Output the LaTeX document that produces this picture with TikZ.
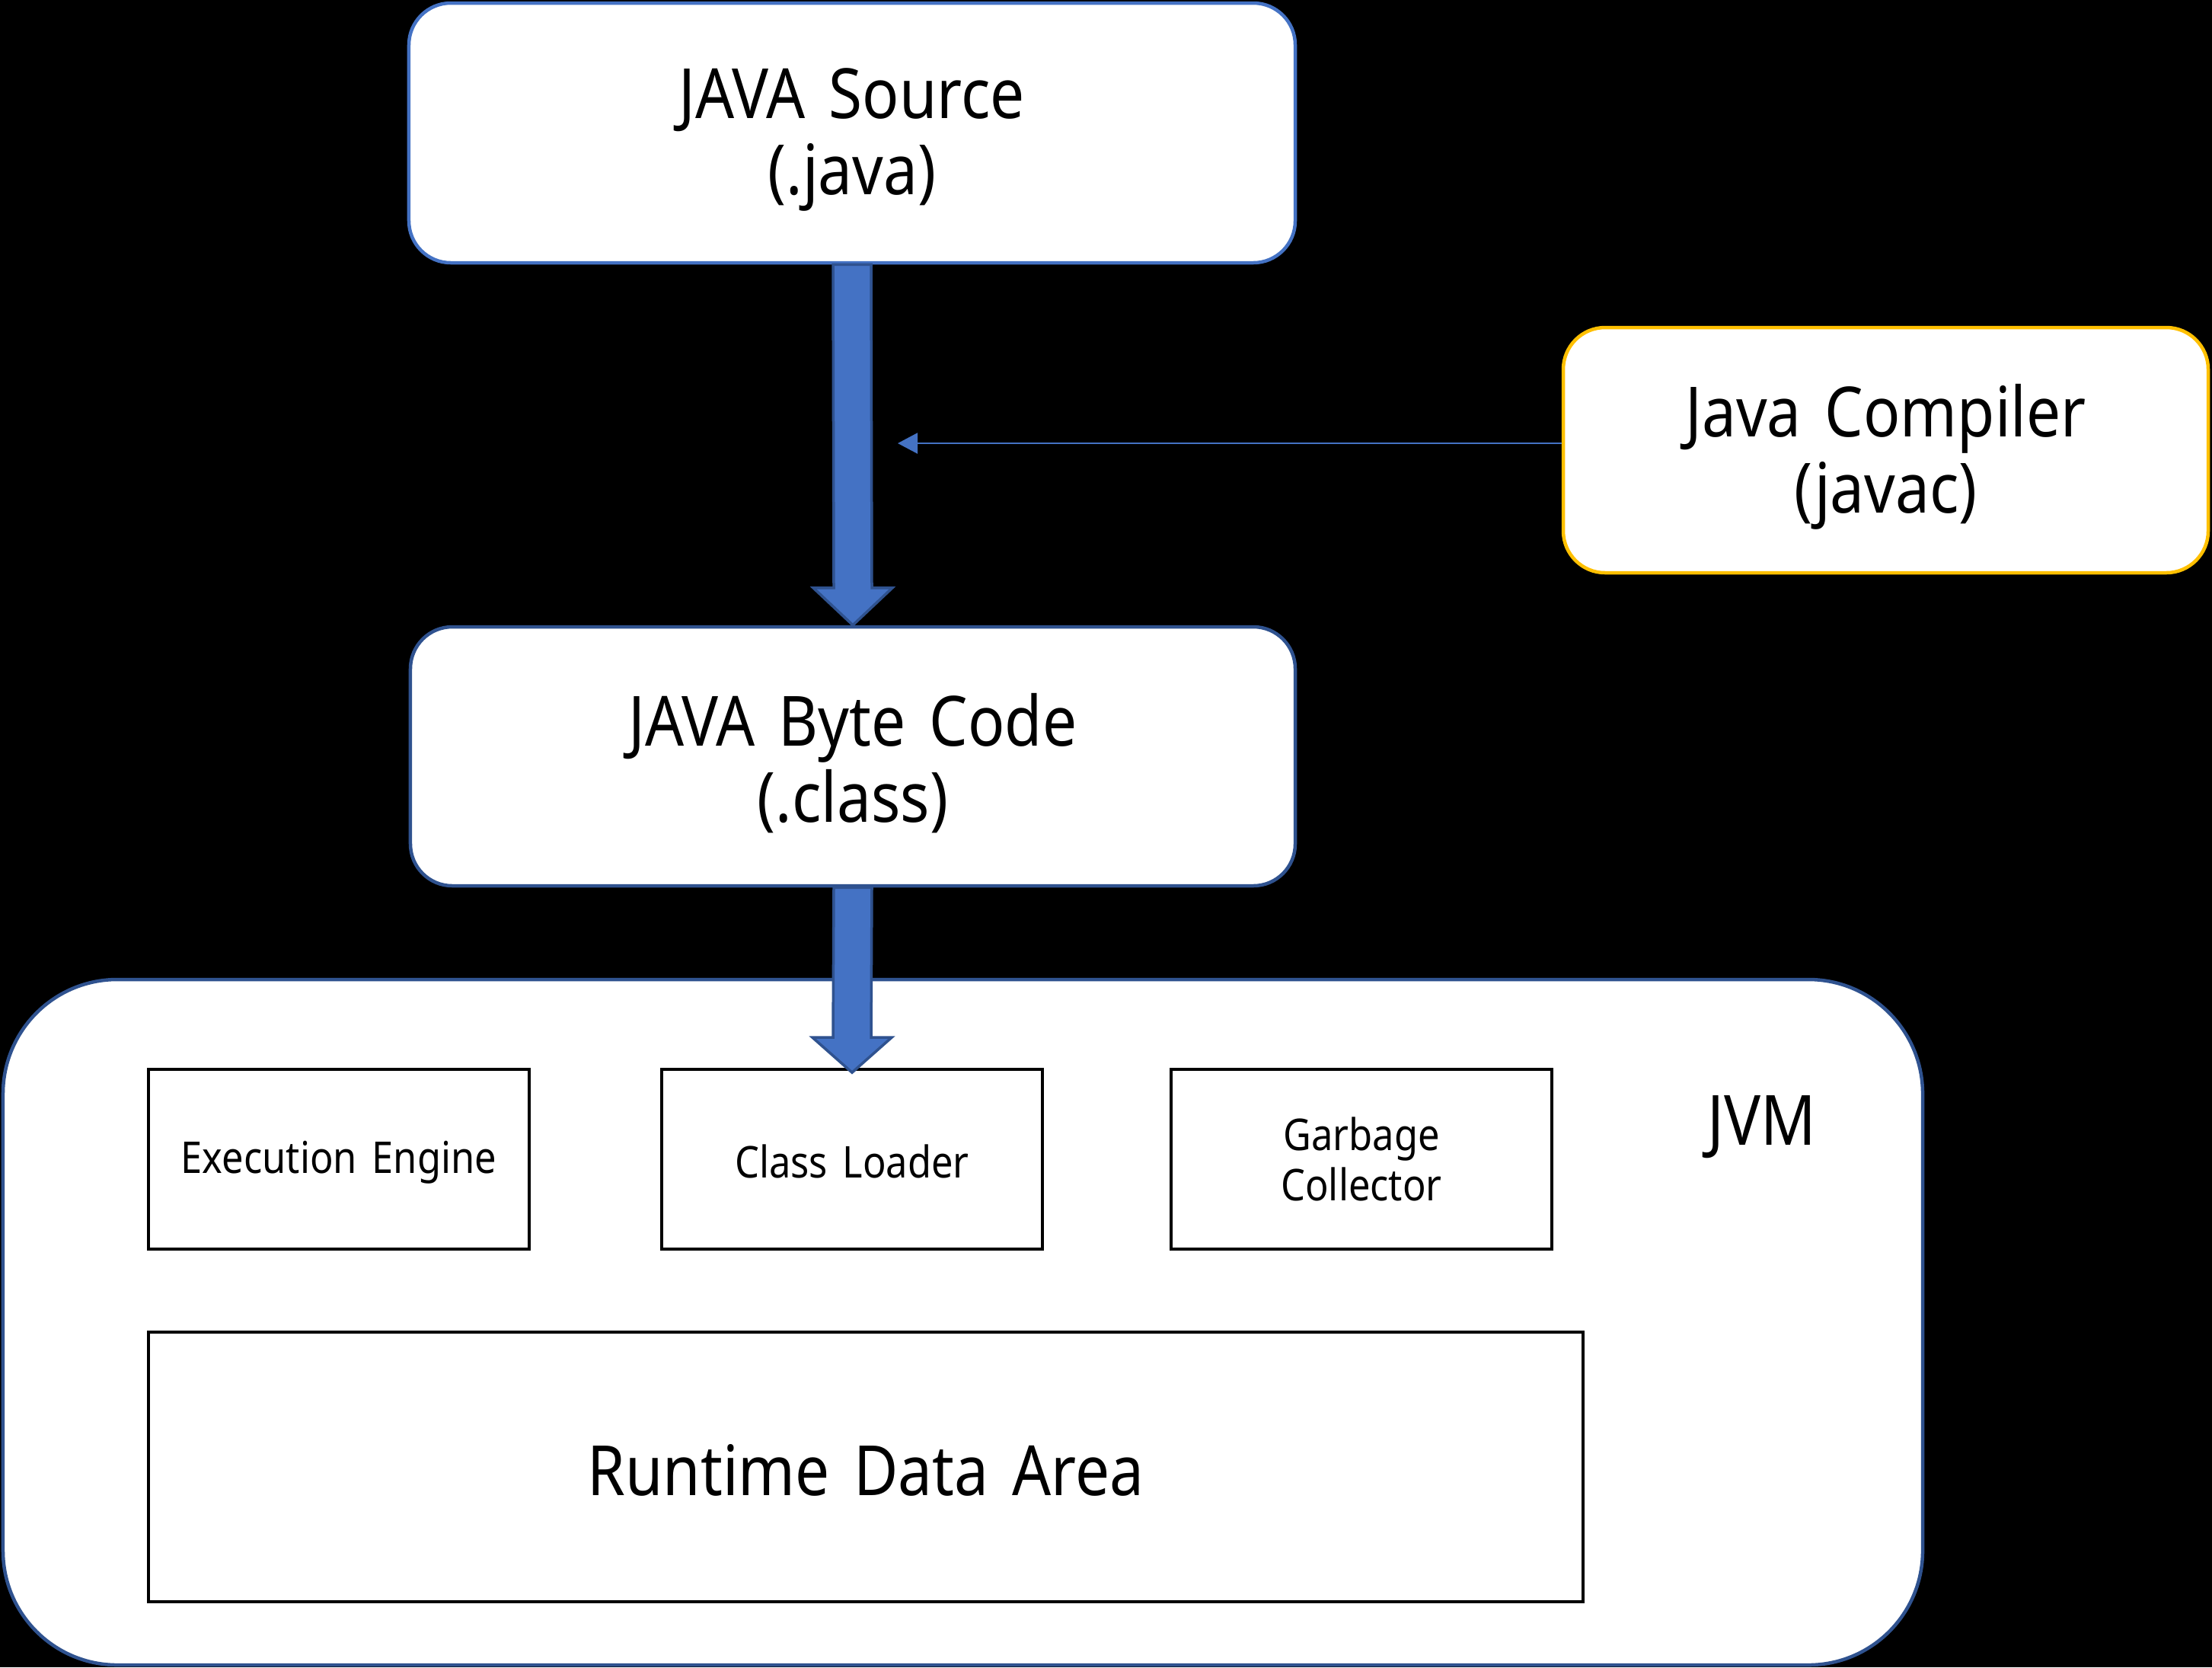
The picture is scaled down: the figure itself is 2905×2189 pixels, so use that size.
\documentclass[tikz,border=0pt]{standalone}
\usepackage{fontspec}
\setmainfont{Noto Sans}[FakeStretch=0.88, WordSpace=1.5]
\usetikzlibrary{arrows.meta,calc}
\definecolor{blueA}{HTML}{4472C4}
\definecolor{blueD}{HTML}{2F528F}
\definecolor{goldB}{HTML}{FFC000}
\tikzset{
  bigtext/.style={font=\fontsize{36.4}{40}\selectfont, align=center, inner sep=0pt},
  smalltext/.style={font=\fontsize{23}{26.7}\selectfont, align=center, inner sep=0pt},
  roundbox/.style={draw=#1, fill=white, line width=1.8pt, rounded corners=22pt,
    inner sep=0pt},
  compbox/.style={draw=black, fill=white, line width=1.5pt, inner sep=0pt,
    minimum width=200pt, minimum height=94.4pt},
  blockarrow/.style={fill=blueA, draw=blueD, line width=1.4pt, line join=miter},
  thinarrow/.style={draw=blueA, line width=0.9pt, -{Triangle[length=10.4pt,width=10.8pt]}}
}
\begin{document}
\begin{tikzpicture}[x=0.4pt,y=-0.4pt]
\fill[black] (0,0) rectangle (2905,2189);
\useasboundingbox (0,0) rectangle (2905,2189);

\node[roundbox=blueA, minimum width=465.6pt, minimum height=136.4pt] (src) at (1119,174.5) {};
\node[bigtext] (srct) at ([yshift=-3.7pt]src.center) {JAVA Source\\(.java)};
\node[roundbox=blueD, minimum width=464.8pt, minimum height=136pt] (byte) at (1120,993) {};
\node[bigtext] (bytet) at ([yshift=-3.5pt]byte.center) {JAVA Byte Code\\(.class)};
\node[roundbox=goldB, minimum width=338.8pt, minimum height=128.8pt] (comp) at (2476.5,591) {};
\node[bigtext] (compt) at ([yshift=-3.5pt]comp.center) {Java Compiler\\(javac)};

\node[draw=blueD, fill=white, line width=1.8pt, rounded corners=60pt, inner sep=0pt,
  minimum width=1008.4pt, minimum height=360pt] (jvm) at (1264.5,1736) {};
\node[bigtext] (jvmlabel) at (2314,1480) {JVM};

\node[compbox] (exec) at (445,1522) {};
\node[smalltext] (exect) at ([yshift=-1.6pt]exec.center) {Execution Engine};
\node[compbox] (cl) at (1119,1522) {};
\node[smalltext] (clt) at ([yshift=-1.2pt]cl.center) {Class Loader};
\node[compbox] (gc) at (1788,1522) {};
\node[smalltext] (gct) at ([yshift=0pt]gc.center) {Garbage\\Collector};
\node[draw=black, fill=white, line width=1.5pt, inner sep=0pt,
  minimum width=753.6pt, minimum height=141.6pt] (rda) at (1137,1926) {};
\node[bigtext] (rdat) at ([yshift=-1.6pt]rda.center) {Runtime Data Area};

% block arrow src -> byte
\coordinate (a1s) at (src.south);
\coordinate (a1t) at (byte.north);
\draw[blockarrow] ($(a1s)+(-25,0)$) -- ($(a1s)+(25,0)$) -- ($(a1t)+(25,-49)$)
  -- ($(a1t)+(52,-49)$) -- (a1t) -- ($(a1t)+(-52,-49)$) -- ($(a1t)+(-25,-49)$) -- cycle;

% block arrow byte -> class loader
\coordinate (a2s) at (byte.south);
\coordinate (a2t) at ([yshift=-2.4pt]cl.north);
\draw[blockarrow] ($(a2s)+(-25,0)$) -- ($(a2s)+(25,0)$) -- ($(a2t)+(25,-46)$)
  -- ($(a2t)+(52,-46)$) -- (a2t) -- ($(a2t)+(-52,-46)$) -- ($(a2t)+(-25,-46)$) -- cycle;

% compiler arrow
\coordinate (tip) at (1179,582);
\draw[thinarrow] (comp.west |- tip) -- (tip);
\end{tikzpicture}
\end{document}
